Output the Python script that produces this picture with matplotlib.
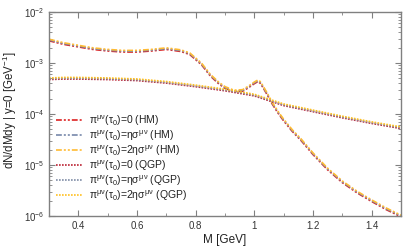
import matplotlib
matplotlib.use("Agg")
import matplotlib.pyplot as plt
from matplotlib.ticker import MultipleLocator, LogLocator, NullFormatter
import matplotlib.transforms as mtransforms
import numpy as np

plt.rcParams['font.family'] = ['Liberation Sans', 'DejaVu Sans']
plt.rcParams['mathtext.fontset'] = 'custom'
plt.rcParams['mathtext.rm'] = 'Liberation Sans'
plt.rcParams['mathtext.it'] = 'Liberation Sans'

# HM (hadronic matter) curve, log10 of dN/dMdy
M_hm = [0.30, 0.35, 0.40, 0.45, 0.50, 0.55, 0.60, 0.65, 0.70, 0.75, 0.78, 0.80,
        0.82, 0.85, 0.88, 0.90, 0.93, 0.96, 0.98, 1.00, 1.012, 1.02, 1.03, 1.045,
        1.06, 1.08, 1.10, 1.13, 1.16, 1.20, 1.25, 1.30, 1.35, 1.40, 1.45, 1.50]
log_hm = [-2.55, -2.62, -2.67, -2.72, -2.75, -2.77, -2.77, -2.75, -2.72, -2.76, -2.82, -2.92,
          -3.02, -3.24, -3.40, -3.48, -3.55, -3.54, -3.47, -3.39, -3.35, -3.38, -3.47, -3.62,
          -3.78, -3.96, -4.12, -4.33, -4.51, -4.78, -5.08, -5.33, -5.53, -5.70, -5.86, -6.00]

# QGP curve
M_qgp = [0.30, 0.35, 0.40, 0.50, 0.60, 0.70, 0.80, 0.90, 1.00, 1.10, 1.20, 1.30, 1.40, 1.50]
log_qgp = [-3.31, -3.30, -3.30, -3.31, -3.33, -3.38, -3.45, -3.53, -3.63, -3.82, -3.94, -4.06, -4.17, -4.27]

labels_hm = [r'$\pi^{\mu\nu}(\tau_0)$=0 (HM)',
             r'$\pi^{\mu\nu}(\tau_0)$=$\eta\sigma^{\mu\nu}$ (HM)',
             r'$\pi^{\mu\nu}(\tau_0)$=2$\eta\sigma^{\mu\nu}$ (HM)']
labels_qgp = [r'$\pi^{\mu\nu}(\tau_0)$=0 (QGP)',
              r'$\pi^{\mu\nu}(\tau_0)$=$\eta\sigma^{\mu\nu}$ (QGP)',
              r'$\pi^{\mu\nu}(\tau_0)$=2$\eta\sigma^{\mu\nu}$ (QGP)']
colors_hm = ['#dd2222', '#7788aa', '#ffbb33']
colors_qgp = ['#bb2233', '#7f8ca6', '#ffc020']
offsets_px = [-0.8, 0.0, 0.8]

fig = plt.figure(figsize=(4.13, 2.48), dpi=100)
ax = fig.add_axes([0.1186, 0.129, 0.8524, 0.823])

y_hm = 10.0 ** np.array(log_hm)
y_qgp = 10.0 ** np.array(log_qgp)

hm_dash = (0, (3.5, 1.2, 1.2, 1.2, 1.2, 1.2))
qgp_dash = (0, (1.0, 0.8))
for lab, c, off in zip(labels_hm, colors_hm, offsets_px):
    tr = mtransforms.offset_copy(ax.transData, fig=fig, x=0, y=off, units='dots')
    ax.plot(M_hm, y_hm, color=c, lw=1.2, linestyle=hm_dash, label=lab, transform=tr)
for lab, c, off in zip(labels_qgp, colors_qgp, offsets_px):
    tr = mtransforms.offset_copy(ax.transData, fig=fig, x=0, y=off, units='dots')
    ax.plot(M_qgp, y_qgp, color=c, lw=1.2, linestyle=qgp_dash, label=lab, transform=tr)

ax.set_yscale('log')
ax.set_xlim(0.3, 1.5)
ax.set_ylim(1e-6, 1e-2)
ax.xaxis.set_minor_locator(MultipleLocator(0.1))
ax.yaxis.set_major_locator(LogLocator(base=10, numticks=10))
ax.yaxis.set_minor_locator(LogLocator(base=10, subs=np.arange(2, 10), numticks=20))
ax.yaxis.set_minor_formatter(NullFormatter())
ax.set_xticks([0.4, 0.6, 0.8, 1.0, 1.2, 1.4])
ax.set_xticklabels(['0.4', '0.6', '0.8', '1', '1.2', '1.4'])

for s in ax.spines.values():
    s.set_color('#808080')
    s.set_linewidth(1.0)
ax.tick_params(which='both', direction='in', top=True, right=True, colors='#808080',
               labelcolor='#333333', labelsize=7)
ax.tick_params(which='major', length=4)
ax.tick_params(which='minor', length=2)

ax.set_xlabel('M [GeV]', fontsize=8.5, color='#222222', labelpad=2)
ax.set_ylabel(r'dN/dMdy | y=0 [GeV$^{-1}$]', fontsize=8.3, color='#222222', labelpad=4)
ax.yaxis.set_label_coords(-0.085, 0.52)

leg = ax.legend(loc='lower left', fontsize=7.5, frameon=False, handlelength=2.6,
                handletextpad=0.5, labelspacing=0.05, borderaxespad=0.3,
                bbox_to_anchor=(0.0, 0.03))
for t in leg.get_texts():
    t.set_color('#222222')

fig.savefig('out.png', dpi=100)
